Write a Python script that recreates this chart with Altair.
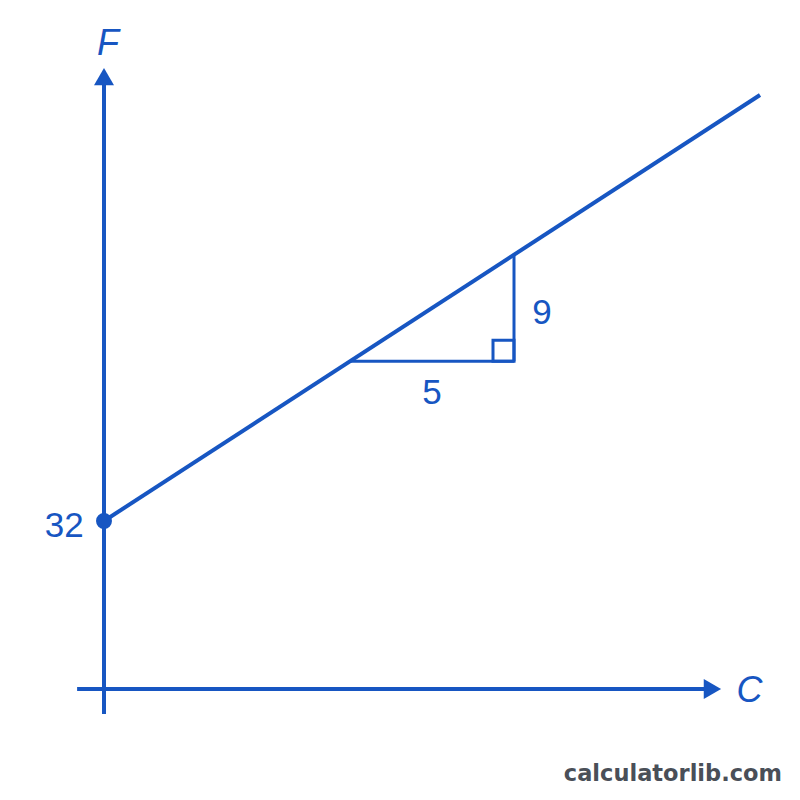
import altair as alt
import pandas as pd

# ---- data (diagram in Celsius / Fahrenheit units) ----
line_c = [0, 20]
line_f = [32, 68]

intercept_c = [0]
intercept_f = [32]

tri_c = [7.5, 12.5]          # run of the slope triangle (5 units)
tri_f = [45.5, 54.5]         # rise of the slope triangle (9 units)

axis_v_c = [0, 0]
axis_v_f = [15.7, 69.0]
axis_h_c = [-0.82, 18.3]
axis_h_f = [17.8, 17.8]

arrow_c = [0, 18.55]
arrow_f = [69.56, 17.8]
arrow_shape = ["triangle-up", "triangle-right"]

axis_names = ["F", "C"]
axis_name_c = [0.12, 19.68]
axis_name_f = [72.35, 17.6]

intercept_label = ["32"]
intercept_label_c = [-0.62]
intercept_label_f = [31.55]

slope_labels = ["9", "5"]
slope_label_c = [13.35, 10.0]
slope_label_f = [49.6, 42.8]

watermark = ["calculatorlib.com"]
wm_c = [20.67]
wm_f = [10.03]

BLUE = "#1756c2"
X_DOMAIN = [-96 / 32.8, 688 / 32.8]
Y_DOMAIN = [32 - 271 / 11.833, 32 + 513 / 11.833]

xs = alt.Scale(domain=X_DOMAIN, nice=False, zero=False)
ys = alt.Scale(domain=Y_DOMAIN, nice=False, zero=False)

def X(field):
    return alt.X(field, type="quantitative", scale=xs, axis=None)

def Y(field):
    return alt.Y(field, type="quantitative", scale=ys, axis=None)

seg4 = pd.DataFrame({
    "c1": [axis_v_c[0], axis_h_c[0], line_c[0]],
    "f1": [axis_v_f[0], axis_h_f[0], line_f[0]],
    "c2": [axis_v_c[1], axis_h_c[1], line_c[1]],
    "f2": [axis_v_f[1], axis_h_f[1], line_f[1]],
})
seg3 = pd.DataFrame({
    "c1": [tri_c[0], tri_c[1]],
    "f1": [tri_f[0], tri_f[0]],
    "c2": [tri_c[1], tri_c[1]],
    "f2": [tri_f[0], tri_f[1]],
})

thick = alt.Chart(seg4).mark_rule(color=BLUE, strokeWidth=4).encode(
    x=X("c1"), y=Y("f1"), x2="c2", y2="f2")
thin = alt.Chart(seg3).mark_rule(color=BLUE, strokeWidth=3).encode(
    x=X("c1"), y=Y("f1"), x2="c2", y2="f2")

corner = alt.Chart(pd.DataFrame({"c": [tri_c[1]], "f": [tri_f[0]]})).mark_point(
    shape="square", filled=False, color=BLUE, strokeWidth=3, size=441,
    xOffset=-10.5, yOffset=-10.5, opacity=1).encode(x=X("c"), y=Y("f"))

arrows = alt.Chart(pd.DataFrame({"c": arrow_c, "f": arrow_f, "s": arrow_shape})).mark_point(
    filled=True, color=BLUE, size=400, opacity=1).encode(
    x=X("c"), y=Y("f"), shape=alt.Shape("s:N", scale=None))

dot = alt.Chart(pd.DataFrame({"c": intercept_c, "f": intercept_f})).mark_circle(
    color=BLUE, size=254, opacity=1).encode(x=X("c"), y=Y("f"))

names = alt.Chart(pd.DataFrame({"c": axis_name_c, "f": axis_name_f, "t": axis_names})).mark_text(
    color=BLUE, font="Liberation Sans", fontSize=36, fontStyle="italic",
    align="center", baseline="middle").encode(x=X("c"), y=Y("f"), text="t:N")

n32 = alt.Chart(pd.DataFrame({"c": intercept_label_c, "f": intercept_label_f, "t": intercept_label})).mark_text(
    color=BLUE, font="Liberation Sans", fontSize=35, align="right", baseline="middle").encode(
    x=X("c"), y=Y("f"), text="t:N")

nslope = alt.Chart(pd.DataFrame({"c": slope_label_c, "f": slope_label_f, "t": slope_labels})).mark_text(
    color=BLUE, font="Liberation Sans", fontSize=35, align="center", baseline="middle").encode(
    x=X("c"), y=Y("f"), text="t:N")

wm = alt.Chart(pd.DataFrame({"c": wm_c, "f": wm_f, "t": watermark})).mark_text(
    color="#4a4f58", font="DejaVu Sans", fontSize=22.5, fontWeight="bold",
    align="right", baseline="alphabetic").encode(x=X("c"), y=Y("f"), text="t:N")

chart = alt.layer(thick, thin, corner, arrows, dot, names, n32, nslope, wm).properties(
    width=784, height=784, padding=0, autosize=alt.AutoSizeParams(type="none"),
    background="white",
).configure_view(stroke=None)

chart.save("out.html", embed_options={"renderer": "svg", "actions": False})
